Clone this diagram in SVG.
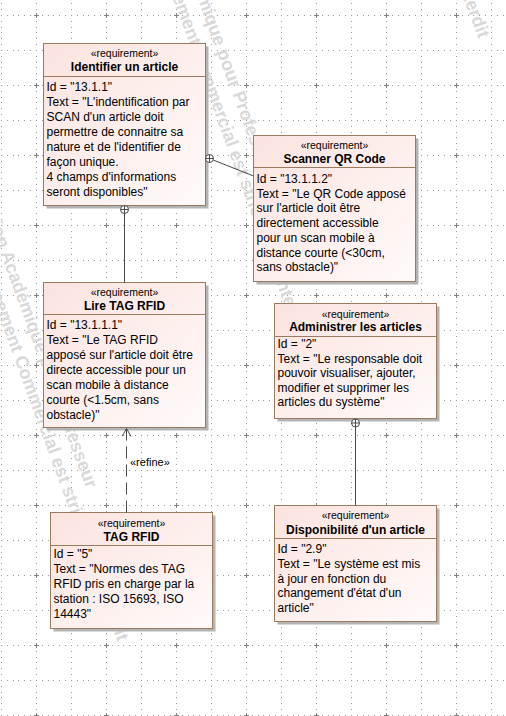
<svg xmlns="http://www.w3.org/2000/svg" width="506" height="716" viewBox="0 0 506 716">
<style>
.bg{fill:#ffffff}
.box{fill:url(#reqFill);stroke:#9b7b5f;stroke-width:1}
.shadow{fill:#b4b4b4}
.sep{stroke:#9b7b5f;stroke-width:1}
.st{font-family:"Liberation Sans",Arial,sans-serif;font-size:10.5px;text-anchor:middle;fill:#000}
.nm{font-family:"Liberation Sans",Arial,sans-serif;font-size:12px;font-weight:bold;text-anchor:middle;fill:#000}
.bd{font-family:"Liberation Sans",Arial,sans-serif;font-size:12px;fill:#000}
.wm{font-family:"Liberation Sans",Arial,sans-serif;font-size:18px;font-weight:bold;fill:#d9d9d9}
.conn{stroke:#4a4a4a;stroke-width:1;fill:none}
.dash{stroke-dasharray:12 6}
.own{stroke:#4a4a4a;stroke-width:1;fill:#ffffff}
.lbl{font-family:"Liberation Sans",Arial,sans-serif;font-size:11px;fill:#000}
</style>
<defs>
<linearGradient id="reqFill" x1="0" y1="0" x2="1" y2="1">
<stop offset="0" stop-color="#fbe3de"/>
<stop offset="1" stop-color="#fffafa"/>
</linearGradient>
<pattern id="grid" patternUnits="userSpaceOnUse" x="1" y="15" width="35" height="35">
<g fill="#9a9a9a">
<rect x="0" y="0" width="1" height="1"/><rect x="6" y="0" width="1" height="1"/><rect x="12" y="0" width="1" height="1"/><rect x="17" y="0" width="1" height="1"/><rect x="23" y="0" width="1" height="1"/><rect x="29" y="0" width="1" height="1"/>
<rect x="0" y="6" width="1" height="1"/><rect x="0" y="12" width="1" height="1"/><rect x="0" y="17" width="1" height="1"/><rect x="0" y="23" width="1" height="1"/><rect x="0" y="29" width="1" height="1"/>
</g>
</pattern>
<pattern id="cross" patternUnits="userSpaceOnUse" x="34" y="13" width="70" height="70">
<g fill="#808080"><rect x="0" y="2" width="5" height="1"/><rect x="2" y="0" width="1" height="5"/></g>
</pattern>
<marker id="openArrow" markerWidth="12" markerHeight="12" refX="9" refY="5" orient="auto" markerUnits="userSpaceOnUse">
<path d="M1,0.5 L9,5 L1,9.5" fill="none" stroke="#4a4a4a" stroke-width="1"/>
</marker>
</defs>
<rect class="bg" x="0" y="0" width="506" height="716"/>
<rect x="0" y="0" width="506" height="716" fill="url(#grid)"/>
<rect x="0" y="0" width="506" height="716" fill="url(#cross)"/>

<g id="watermark">
<g transform="translate(-23.3,188.1) rotate(70)"><text class="wm" x="0" y="0">Version Académique pour Professeur</text><text class="wm" x="33.6" y="23">Développement Commercial est strictement interdit</text></g>
<g transform="translate(154.7,-118.9) rotate(70)"><text class="wm" x="0" y="0">Version Académique pour Professeur</text><text class="wm" x="33.6" y="23">Développement Commercial est strictement interdit</text></g>
<g transform="translate(337.7,-414.9) rotate(70)"><text class="wm" x="0" y="0">Version Académique pour Professeur</text><text class="wm" x="33.6" y="23">Développement Commercial est strictement interdit</text></g>
</g>

<g id="n1">
<rect class="shadow" x="46.5" y="46.5" width="162" height="162"/>
<rect class="box" x="43.5" y="43.5" width="162" height="162"/>
<line class="sep" x1="43.5" y1="76.5" x2="205.5" y2="76.5"/>
<text class="st" x="124.5" y="57">«requirement»</text>
<text class="nm" x="124.5" y="71">Identifier un article</text>
<text class="bd" x="46.5" y="91">Id = "13.1.1"</text>
<text class="bd" x="46.5" y="106">Text = "L'indentification par</text>
<text class="bd" x="46.5" y="121">SCAN d'un article doit</text>
<text class="bd" x="46.5" y="136">permettre de connaitre sa</text>
<text class="bd" x="46.5" y="151">nature et de l'identifier de</text>
<text class="bd" x="46.5" y="166">façon unique.</text>
<text class="bd" x="46.5" y="181">4 champs d'informations</text>
<text class="bd" x="46.5" y="196">seront disponibles"</text>
</g>

<g id="n2">
<rect class="shadow" x="256.5" y="138.5" width="162" height="146"/>
<rect class="box" x="253.5" y="135.5" width="162" height="146"/>
<line class="sep" x1="253.5" y1="167.5" x2="415.5" y2="167.5"/>
<text class="st" x="334.5" y="149">«requirement»</text>
<text class="nm" x="334.5" y="163">Scanner QR Code</text>
<text class="bd" x="256.5" y="183">Id = "13.1.1.2"</text>
<text class="bd" x="256.5" y="197.7">Text = "Le QR Code apposé</text>
<text class="bd" x="256.5" y="212.4">sur l'article doit être</text>
<text class="bd" x="256.5" y="227.1">directement accessible</text>
<text class="bd" x="256.5" y="241.8">pour un scan mobile à</text>
<text class="bd" x="256.5" y="256.5">distance courte (&lt;30cm,</text>
<text class="bd" x="256.5" y="271.2">sans obstacle)"</text>
</g>

<g id="n3">
<rect class="shadow" x="46.5" y="285.5" width="162" height="145"/>
<rect class="box" x="43.5" y="282.5" width="162" height="145"/>
<line class="sep" x1="43.5" y1="314.5" x2="205.5" y2="314.5"/>
<text class="st" x="124.5" y="296">«requirement»</text>
<text class="nm" x="124.5" y="310">Lire TAG RFID</text>
<text class="bd" x="46.5" y="329">Id = "13.1.1.1"</text>
<text class="bd" x="46.5" y="344">Text = "Le TAG RFID</text>
<text class="bd" x="46.5" y="359">apposé sur l'article doit être</text>
<text class="bd" x="46.5" y="374">directe accessible pour un</text>
<text class="bd" x="46.5" y="389">scan mobile à distance</text>
<text class="bd" x="46.5" y="404">courte (&lt;1.5cm, sans</text>
<text class="bd" x="46.5" y="419">obstacle)"</text>
</g>

<g id="n4">
<rect class="shadow" x="277.5" y="306.5" width="162" height="115"/>
<rect class="box" x="274.5" y="303.5" width="162" height="115"/>
<line class="sep" x1="274.5" y1="336.5" x2="436.5" y2="336.5"/>
<text class="st" x="355.5" y="318">«requirement»</text>
<text class="nm" x="355.5" y="331">Administrer les articles</text>
<text class="bd" x="277.5" y="348">Id = "2"</text>
<text class="bd" x="277.5" y="362.6">Text = "Le responsable doit</text>
<text class="bd" x="277.5" y="377.2">pouvoir visualiser, ajouter,</text>
<text class="bd" x="277.5" y="391.8">modifier et supprimer les</text>
<text class="bd" x="277.5" y="406.4">articles du système"</text>
</g>

<g id="n5">
<rect class="shadow" x="53.5" y="515.5" width="162" height="116"/>
<rect class="box" x="50.5" y="512.5" width="162" height="116"/>
<line class="sep" x1="50.5" y1="545.5" x2="212.5" y2="545.5"/>
<text class="st" x="131.5" y="527">«requirement»</text>
<text class="nm" x="131.5" y="541">TAG RFID</text>
<text class="bd" x="53.5" y="558">Id = "5"</text>
<text class="bd" x="53.5" y="573">Text = "Normes des TAG</text>
<text class="bd" x="53.5" y="588">RFID pris en charge par la</text>
<text class="bd" x="53.5" y="603">station : ISO 15693, ISO</text>
<text class="bd" x="53.5" y="618">14443"</text>
</g>

<g id="n6">
<rect class="shadow" x="277.5" y="508.5" width="162" height="116"/>
<rect class="box" x="274.5" y="505.5" width="162" height="116"/>
<line class="sep" x1="274.5" y1="538.5" x2="436.5" y2="538.5"/>
<text class="st" x="355.5" y="519">«requirement»</text>
<text class="nm" x="355.5" y="533.5">Disponibilité d'un article</text>
<text class="bd" x="277.5" y="553">Id = "2.9"</text>
<text class="bd" x="277.5" y="567.8">Text = "Le système est mis</text>
<text class="bd" x="277.5" y="582.6">à jour en fonction du</text>
<text class="bd" x="277.5" y="597.4">changement d'état d'un</text>
<text class="bd" x="277.5" y="612.2">article"</text>
</g>

<g id="connectors">
<g id="c1">
<line class="conn" x1="124.5" y1="213.5" x2="124.5" y2="282.5"/>
<circle class="own" cx="124.5" cy="209.5" r="4"/>
<path class="conn" d="M120.5,209.5 H128.5 M124.5,205.5 V213.5"/>
</g>
<g id="c2">
<line class="conn" x1="213.2" y1="160" x2="253.5" y2="176"/>
<circle class="own" cx="209.5" cy="158.5" r="4"/>
<path class="conn" d="M205.5,158.5 H213.5 M209.5,154.5 V162.5"/>
</g>
<g id="c3">
<line class="conn" x1="355.5" y1="427" x2="355.5" y2="505.5"/>
<circle class="own" cx="355.5" cy="423" r="4"/>
<path class="conn" d="M351.5,423 H359.5 M355.5,419 V427"/>
</g>
<g id="c4">
<line class="conn dash" x1="126.5" y1="512.5" x2="126.5" y2="428.5" marker-end="url(#openArrow)"/>
<text class="lbl" x="130" y="465.5">«refine»</text>
</g>
</g>
</svg>
